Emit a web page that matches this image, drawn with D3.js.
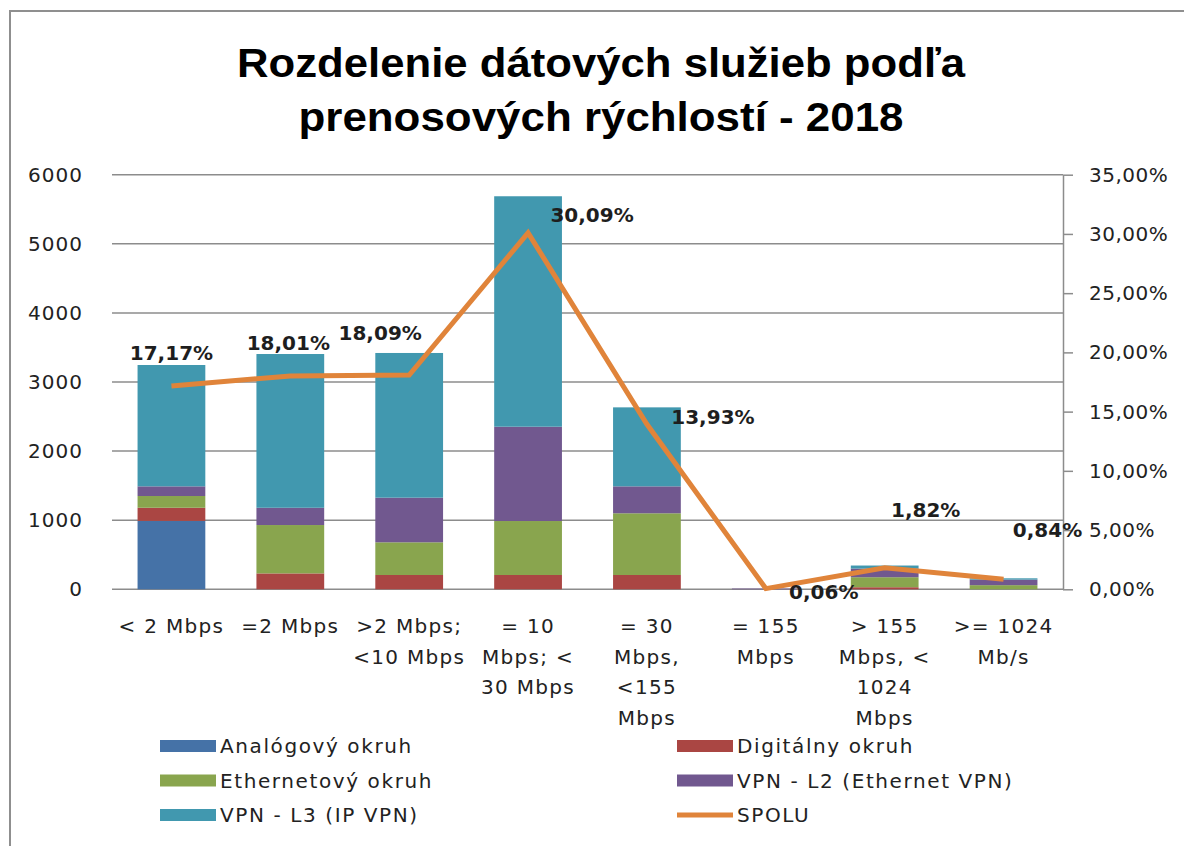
<!DOCTYPE html>
<html>
<head>
<meta charset="utf-8">
<script src="https://cdn.jsdelivr.net/npm/d3@7"></script>
<style>
  body { margin: 0; background: #fff; }
  text { font-family: "DejaVu Sans", Verdana, sans-serif; }
</style>
</head>
<body>
<div id="chart"></div>
<script>
// data
const categories = [
  ["< 2 Mbps"],
  ["=2 Mbps"],
  [">2 Mbps;", "<10 Mbps"],
  ["= 10", "Mbps; <", "30 Mbps"],
  ["= 30", "Mbps,", "<155", "Mbps"],
  ["= 155", "Mbps"],
  ["> 155", "Mbps, <", "1024", "Mbps"],
  [">= 1024", "Mb/s"]
]
const seriesNames = ["Analógový okruh", "Digitálny okruh", "Ethernetový okruh", "VPN - L2 (Ethernet VPN)", "VPN - L3 (IP VPN)"]
const analog   = [990,   0,   0,    0,    0,  0,   0,  0]
const digital  = [190, 230, 207,  207,  207,  0,  30,  0]
const ethernet = [170, 700, 473,  781,  893,  0, 145, 60]
const vpnL2    = [140, 250, 646, 1365,  390, 11, 125, 80]
const vpnL3    = [1756, 2225, 2094, 3335, 1143, 0, 44, 19]
const spolu    = [17.17, 18.01, 18.09, 30.09, 13.93, 0.06, 1.82, 0.84]
const leftTicks = [0, 1000, 2000, 3000, 4000, 5000, 6000]
const rightTicks = [0, 5, 10, 15, 20, 25, 30, 35]

const colors = ["#4572a7", "#aa4643", "#89a54e", "#71588f", "#4198af"]
const lineColor = "#e0843a"
// hand-placed data labels (offset from the point), like in the original sheet
const labelOffsets = [[0, -33], [-2, -33], [-29, -42], [64, -18], [66, -7], [58, 3], [41, -58], [44, -50]]

function drawChart(){

  // 1. dimensions
  const dimensions = {
    width: 1184,
    height: 846,
    plot: { left: 112, right: 1063, top: 174.7, bottom: 589.3 }
  }

  // 2. canvas
  const svg = d3.select("#chart")
    .append("svg")
      .attr("width", dimensions.width)
      .attr("height", dimensions.height)

  // chart border (runs off the right / bottom edge)
  svg.append("rect")
    .attr("x", 10).attr("y", 11)
    .attr("width", 1300).attr("height", 1000)
    .attr("fill", "none")
    .attr("stroke", "#8f8f8f")
    .attr("stroke-width", 2)

  // title
  const title = svg.append("text")
    .attr("text-anchor", "middle")
    .style("font-family", "'Liberation Sans', Arial, sans-serif")
    .style("font-weight", "bold")
    .style("font-size", "40px")
    .attr("fill", "#000")
  title.append("tspan").attr("x", 601).attr("y", 77)
    .attr("textLength", 728).attr("lengthAdjust", "spacingAndGlyphs")
    .text("Rozdelenie dátových služieb podľa")
  title.append("tspan").attr("x", 601).attr("y", 131)
    .attr("textLength", 605).attr("lengthAdjust", "spacingAndGlyphs")
    .text("prenosových rýchlostí - 2018")

  // 3. scales
  const p = dimensions.plot
  const xScale = d3.scaleBand()
    .domain(d3.range(categories.length))
    .range([p.left, p.right])
    .paddingInner(0.43)
    .paddingOuter(0.215)

  const yScale = d3.scaleLinear()
    .domain([0, 6000])
    .range([p.bottom, p.top])

  const yRight = d3.scaleLinear()
    .domain([0, 35])
    .range([p.bottom, p.top])

  const fmtPct = v => d3.format(".2f")(v).replace(".", ",") + "%"

  // 4. gridlines + left axis
  svg.append("g")
    .selectAll("line")
    .data(leftTicks)
    .join("line")
      .attr("x1", p.left).attr("x2", p.right)
      .attr("y1", d => yScale(d)).attr("y2", d => yScale(d))
      .attr("stroke", "#8c8c8c")
      .attr("stroke-width", 1.5)

  const yAxis = svg.append("g")
    .attr("transform", `translate(${p.left},0)`)
    .call(d3.axisLeft(yScale).tickValues(leftTicks).tickFormat(d3.format("d")).tickSize(0).tickPadding(29))
  yAxis.select(".domain").remove()
  yAxis.selectAll("text")
    .style("font-size", "20px")
    .style("letter-spacing", "1px")
    .attr("fill", "#222")

  const rAxis = svg.append("g")
    .attr("transform", `translate(${p.right},0)`)
    .call(d3.axisRight(yRight).tickValues(rightTicks).tickSize(10).tickSizeOuter(0).tickPadding(16).tickFormat(fmtPct))
  rAxis.select(".domain").attr("stroke", "#8c8c8c").attr("stroke-width", 1.5)
  rAxis.selectAll("line").attr("stroke", "#8c8c8c").attr("stroke-width", 1.5)
  rAxis.selectAll("text")
    .style("font-size", "20px")
    .style("letter-spacing", "0.5px")
    .attr("fill", "#222")

  // 5. stacked bars
  const series = [analog, digital, ethernet, vpnL2, vpnL3]
  const rows = categories.map((c, i) => {
    const r = { i }
    series.forEach((s, k) => r[k] = s[i])
    return r
  })
  const stacked = d3.stack().keys(d3.range(series.length))(rows)

  svg.append("g")
    .selectAll("g")
    .data(stacked)
    .join("g")
      .attr("fill", d => colors[d.key])
    .selectAll("rect")
    .data(d => d)
    .join("rect")
      .attr("x", d => xScale(d.data.i))
      .attr("width", xScale.bandwidth())
      .attr("y", d => yScale(d[1]))
      .attr("height", d => yScale(d[0]) - yScale(d[1]))

  // 6. SPOLU line on the right axis
  const cx = i => xScale(i) + xScale.bandwidth() / 2
  const line = d3.line()
    .x((d, i) => cx(i))
    .y(d => yRight(d))

  svg.append("path")
    .datum(spolu)
    .attr("d", line)
    .attr("fill", "none")
    .attr("stroke", lineColor)
    .attr("stroke-width", 5)
    .attr("stroke-linejoin", "miter")

  svg.append("g")
    .selectAll("text")
    .data(spolu)
    .join("text")
      .attr("x", (d, i) => cx(i) + labelOffsets[i][0])
      .attr("y", (d, i) => yRight(d) + labelOffsets[i][1])
      .attr("dy", "0.36em")
      .attr("text-anchor", "middle")
      .style("font-size", "20px")
      .style("font-weight", "bold")
      .attr("fill", "#1e1e1e")
      .text(d => fmtPct(d))

  // 7. category labels (wrapped like in the original)
  svg.append("g")
    .selectAll("text")
    .data(categories)
    .join("text")
      .attr("text-anchor", "middle")
      .style("font-size", "20px")
      .style("letter-spacing", "1.3px")
      .attr("fill", "#222")
      .each(function(lines, i){
        d3.select(this).selectAll("tspan")
          .data(lines)
          .join("tspan")
            .attr("x", cx(i))
            .attr("y", (l, j) => p.bottom + 44 + j * 30.5)
            .text(l => l)
      })

  // 8. legend
  const legendItems = seriesNames.map((n, k) => ({ name: n, color: colors[k], type: "bar" }))
    .concat([{ name: "SPOLU", color: lineColor, type: "line" }])
  const legend = svg.append("g")
    .selectAll("g")
    .data(legendItems)
    .join("g")
      .attr("transform", (d, k) => `translate(${k % 2 ? 677 : 160},${746 + Math.floor(k / 2) * 34.5})`)

  legend.append("rect")
    .attr("x", 0)
    .attr("y", d => d.type === "bar" ? -6 : -2.5)
    .attr("width", 56)
    .attr("height", d => d.type === "bar" ? 12 : 5)
    .attr("fill", d => d.color)

  legend.append("text")
    .attr("x", 60)
    .attr("dy", "0.36em")
    .style("font-size", "20px")
    .style("letter-spacing", "1.6px")
    .attr("fill", "#222")
    .text(d => d.name)
}

drawChart()
</script>
</body>
</html>
